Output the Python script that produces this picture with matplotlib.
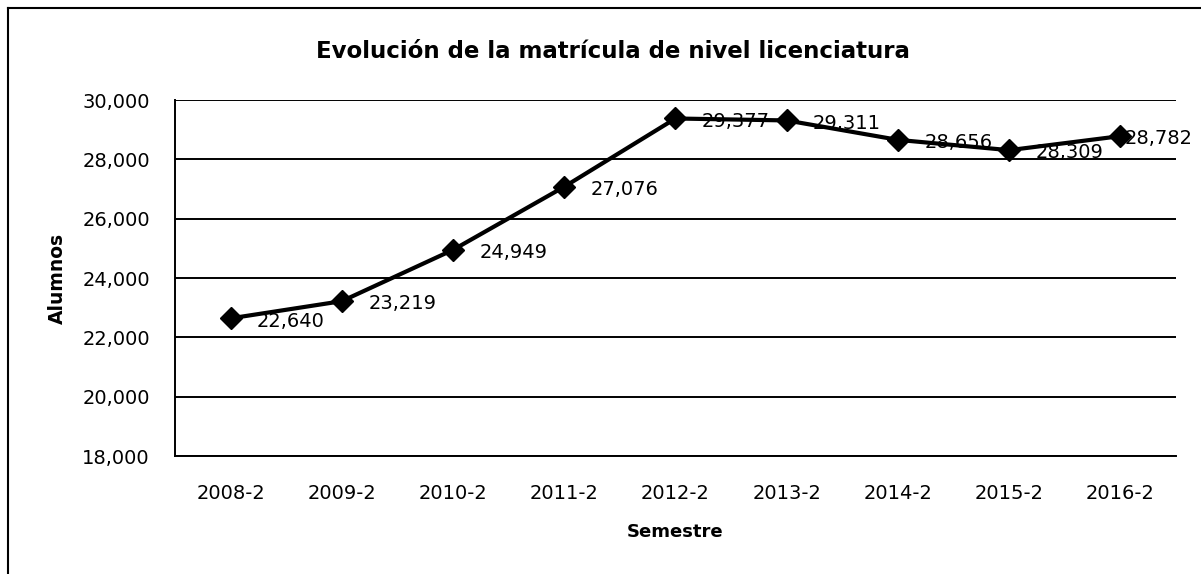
import matplotlib.pyplot as plt
from matplotlib.lines import Line2D
from matplotlib.ticker import FuncFormatter

semestres = ['2008-2', '2009-2', '2010-2', '2011-2', '2012-2',
             '2013-2', '2014-2', '2015-2', '2016-2']
alumnos = [22640, 23219, 24949, 27076, 29377, 29311, 28656, 28309, 28782]
y_ticks = [18000, 20000, 22000, 24000, 26000, 28000, 30000]

plt.rcParams['font.family'] = ['DejaVu Sans']

W, H = 1201, 574
fig = plt.figure(figsize=(W / 100, H / 100), dpi=100)
ax = fig.add_axes([175 / W, (H - 456) / H, 1001 / W, 356 / H])

x = list(range(len(semestres)))
ax.plot(x, alumnos, color='black', linewidth=3.0, marker='D', markersize=11,
        zorder=3)
for i, v in enumerate(alumnos):
    # the last label is pushed left so it stays inside the chart area
    dx = 3 if i == len(alumnos) - 1 else 19
    ax.annotate(f'{v:,}', (i, v), xytext=(dx, -2), textcoords='offset points',
                va='center', ha='left', fontsize=14, zorder=4)

ax.set_xlim(-0.5, len(semestres) - 0.5)
ax.set_ylim(18000, 30000)
ax.set_yticks(y_ticks)
ax.set_xticks(x)
ax.set_xticklabels(semestres)
ax.yaxis.set_major_formatter(FuncFormatter(lambda v, _: f'{int(v):,}'))
ax.tick_params(axis='both', length=0, labelsize=14)
ax.tick_params(axis='y', pad=18)
ax.tick_params(axis='x', pad=20)
ax.grid(axis='y', color='black', linewidth=1.4)
ax.set_axisbelow(True)
for s in ['top', 'right']:
    ax.spines[s].set_visible(False)
for s in ['left', 'bottom']:
    ax.spines[s].set_linewidth(1.4)

fig.text(316 / W, (H - 58) / H, 'Evolución de la matrícula de nivel licenciatura',
         ha='left', va='baseline', fontsize=16.5, fontweight='bold')
fig.text(675 / W, (H - 537) / H, 'Semestre', ha='center', va='baseline',
         fontsize=13, fontweight='bold')
fig.text(57 / W, (H - 278) / H, 'Alumnos', ha='center', va='center',
         rotation=90, fontsize=13.5, fontweight='bold')

# scanned chart frame: only the top and left edges show in the picture
fx, fy = 8 / W, 1 - 8 / H
fig.add_artist(Line2D([fx, fx], [0, fy], transform=fig.transFigure,
                      color='black', linewidth=1.5))
fig.add_artist(Line2D([fx, 1], [fy, fy], transform=fig.transFigure,
                      color='black', linewidth=1.5))

fig.savefig('out.png', dpi=100)
